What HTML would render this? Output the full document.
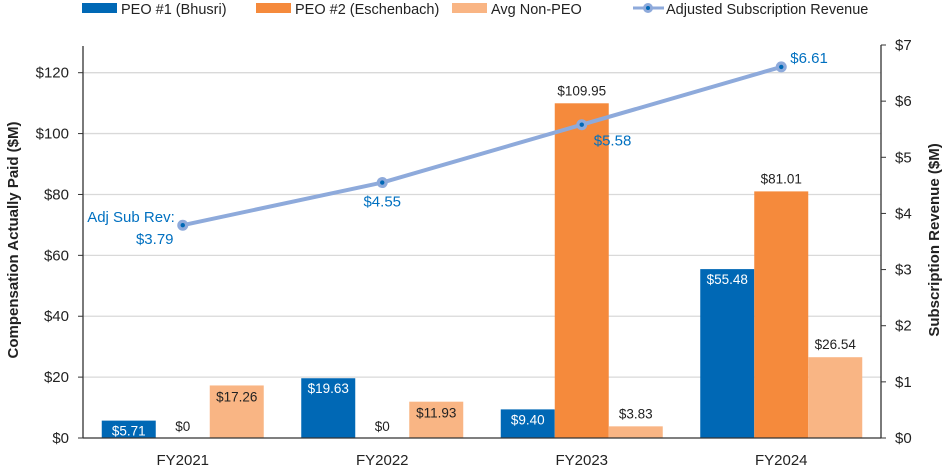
<!DOCTYPE html>
<html><head><meta charset="utf-8"><style>
body{margin:0;background:#fff;font-family:"Liberation Sans",sans-serif}
</style></head><body>
<svg id="c" width="950" height="471" viewBox="0 0 950 471" xmlns="http://www.w3.org/2000/svg" font-family="Liberation Sans, sans-serif"></svg>
<script>
const categories=["FY2021","FY2022","FY2023","FY2024"];
const peo1=[5.71,19.63,9.40,55.48];
const peo2=[0,0,109.95,81.01];
const avgNonPeo=[17.26,11.93,3.83,26.54];
const subRev=[3.79,4.55,5.58,6.61];
const leftTicks=[0,20,40,60,80,100,120];
const rightTicks=[0,1,2,3,4,5,6,7];
const NS="http://www.w3.org/2000/svg";
const svg=document.getElementById('c');
const X0=83,X1=881,Y0=438;
const yL=v=>Y0-v*(438-72.7)/120;
const yR=v=>Y0-v*(438-45)/7;
const band=(X1-X0)/categories.length;
const xC=i=>X0+band*(i+0.5);
function el(t,a,txt){const e=document.createElementNS(NS,t);for(const k in a)e.setAttribute(k,a[k]);if(txt!==undefined)e.textContent=txt;svg.appendChild(e);return e;}
leftTicks.forEach(v=>{
 if(v>0){const g=el('line',{x1:X0,x2:X1,y1:yL(v),y2:yL(v),stroke:'#d9d9d9','stroke-width':1.3});
 
 }
 const t=el('text',{x:X0-14,y:yL(v)+5,'text-anchor':'end','font-size':15,fill:'#222'},'$'+v);
 
 
 el('line',{x1:X0-5,x2:X0,y1:yL(v),y2:yL(v),stroke:'#333'});
});
rightTicks.forEach(v=>{
 const t=el('text',{x:X1+14,y:yR(v)+5,'font-size':15,fill:'#222'},'$'+v);
 
 
 el('line',{x1:X1,x2:X1+5,y1:yR(v),y2:yR(v),stroke:'#333'});
});
const bw=54;
const series=[[peo1,'#0068b5','peo1-bar'],[peo2,'#f58a3c','peo2-bar'],[avgNonPeo,'#f9b584','avg-non-peo-bar']];
categories.forEach((c,i)=>{
 series.forEach(([d,col,nm],j)=>{
  const x=xC(i)-81+j*bw, v=d[i];
  if(v>0){const r=el('rect',{x:x,y:yL(v),width:bw,height:Y0-yL(v),fill:col});
  
  }
  let ty, fill='#222';
  if(j===0){ty=yL(v)+15;fill='#fff';}else{ty=yL(v)-8;}
  if(v===0)ty=Y0-7;
  if(j===2&&i<2){ty=yL(v)+16;}
  const lab=el('text',{x:x+bw/2,y:ty,'text-anchor':'middle','font-size':13.5,fill:fill},'$'+(v===0?'0':v.toFixed(2)));
  
  
 });
 const t=el('text',{x:xC(i),y:465,'text-anchor':'middle','font-size':15,fill:'#222'},c);
 
 
});
el('line',{x1:X0,x2:X0,y1:46,y2:Y0,stroke:'#333','stroke-width':1.3});
el('line',{x1:X1,x2:X1,y1:45,y2:Y0,stroke:'#333','stroke-width':1.3});
el('line',{x1:X0,x2:X1,y1:Y0,y2:Y0,stroke:'#333','stroke-width':1.3});
const pts=subRev.map((v,i)=>xC(i)+','+yR(v)).join(' ');
const pl=el('polyline',{points:pts,fill:'none',stroke:'#8eaadb','stroke-width':4});


subRev.forEach((v,i)=>{
 const c1=el('circle',{cx:xC(i),cy:yR(v),r:5.5,fill:'#8eaadb'});
 
 
 el('circle',{cx:xC(i),cy:yR(v),r:2.2,fill:'#0068b5'});
 const x=xC(i),y=yR(v);let a;
 if(i===0){el('text',{x:x-8,y:y-3,'text-anchor':'end','font-size':15,fill:'#0070c0'},'Adj Sub Rev:');a=[x-28,y+19,'middle'];}
 else if(i===1)a=[x,y+24,'middle'];
 else if(i===2)a=[x+12,y+21,'start'];
 else a=[x+9,y-4,'start'];
 const t=el('text',{x:a[0],y:a[1],'text-anchor':a[2],'font-size':15,fill:'#0070c0'},'$'+v.toFixed(2));
 
 
});
const yt=el('text',{transform:'translate(18,240) rotate(-90)','text-anchor':'middle','font-size':15,'font-weight':'bold',fill:'#222'},'Compensation Actually Paid ($M)');


const yt2=el('text',{transform:'translate(939,240) rotate(-90)','text-anchor':'middle','font-size':15,'font-weight':'bold',fill:'#222'},'Subscription Revenue ($M)');


const leg=[[82,'#0068b5','PEO #1 (Bhusri)'],[256,'#f58a3c','PEO #2 (Eschenbach)'],[452,'#f9b584','Avg Non-PEO']];
leg.forEach(([x,col,txt])=>{
 const r=el('rect',{x:x,y:3,width:35,height:10,fill:col});
 
 
 const t=el('text',{x:x+39,y:14,'font-size':14.5,fill:'#222'},txt);
 
 
});
el('line',{x1:633,x2:664,y1:8,y2:8,stroke:'#8eaadb','stroke-width':3});
el('circle',{cx:648,cy:8,r:5,fill:'#8eaadb'});
el('circle',{cx:648,cy:8,r:2,fill:'#0068b5'});
const lt=el('text',{x:666,y:14,'font-size':14.5,fill:'#222'},'Adjusted Subscription Revenue');


</script>
</body></html>
